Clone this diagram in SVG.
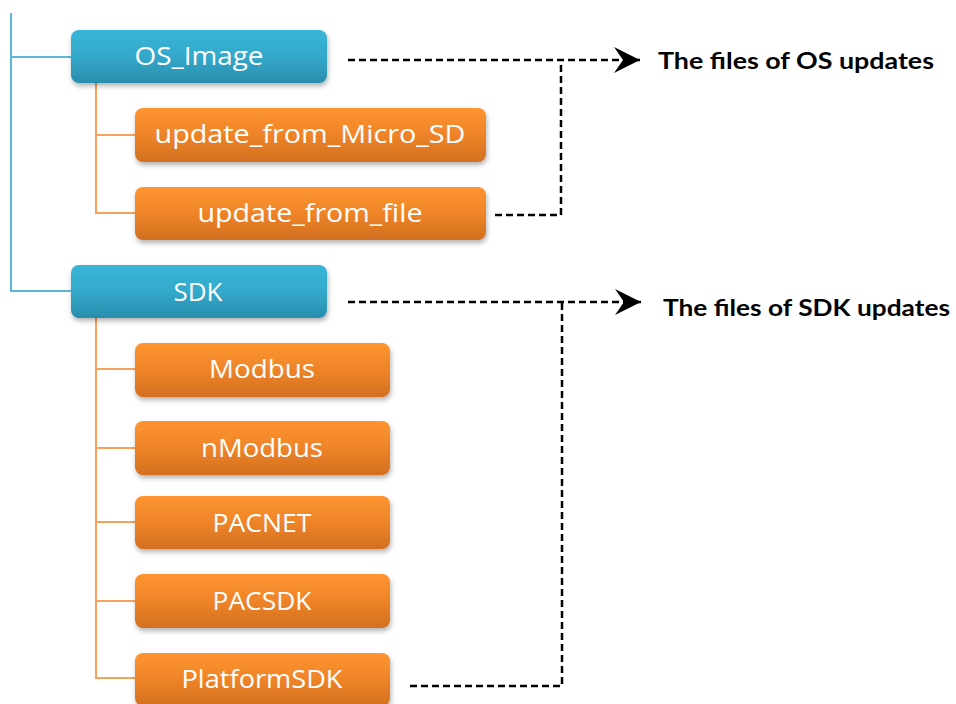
<svg xmlns="http://www.w3.org/2000/svg" width="956" height="704" viewBox="0 0 956 704">
<style>
.blue{fill:url(#gb);filter:url(#sh)}
.orange{fill:url(#go);filter:url(#sh)}
.nt{font-family:"Open Sans","DejaVu Sans",sans-serif;font-size:26px;fill:#ffffff;text-anchor:middle}
.lb{font-family:Lato,"Liberation Sans",Arial,sans-serif;font-weight:bold;font-size:22px;fill:#000000}
.bl{fill:none;stroke:#5CB8D3;stroke-width:2}
.ol{fill:none;stroke:#F7A25B;stroke-width:2}
.dash{fill:none;stroke:#000000;stroke-width:2.5;stroke-dasharray:7 4}
</style>
<defs>
<linearGradient id="gb" x1="0" y1="0" x2="0" y2="1">
<stop offset="0" stop-color="#39B5D8"/>
<stop offset="0.5" stop-color="#33A9CB"/>
<stop offset="1" stop-color="#2A8DAC"/>
</linearGradient>
<linearGradient id="go" x1="0" y1="0" x2="0" y2="1">
<stop offset="0" stop-color="#FE9530"/>
<stop offset="0.5" stop-color="#EE8428"/>
<stop offset="1" stop-color="#D26F20"/>
</linearGradient>
<filter id="sh" x="-10%" y="-20%" width="120%" height="150%">
<feDropShadow dx="1" dy="3" stdDeviation="2.5" flood-color="#000000" flood-opacity="0.3"/>
</filter>
<marker id="ah" markerUnits="userSpaceOnUse" markerWidth="30" markerHeight="30" refX="26" refY="13" orient="auto">
<path d="M0,0 L26,13 L0,26 L9,13 Z" fill="#000000"/>
</marker>
</defs>
<g id="connectors">
<path class="bl" d="M11,13 V291 H71 M11,57 H71"/>
<path class="ol" d="M96,83 V213 H135 M96,135 H135"/>
<path class="ol" d="M96,318 V678 H135 M96,369 H135 M96,448 H135 M96,522 H135 M96,601 H135"/>
<path class="dash" d="M348,60 H640" marker-end="url(#ah)"/>
<path class="dash" d="M495,215 H561 V60"/>
<path class="dash" d="M348,302 H641" marker-end="url(#ah)"/>
<path class="dash" d="M410,686 H562 V302"/>
</g>
<g id="os_image"><rect class="blue" x="71" y="30" width="256" height="53" rx="8"/><text class="nt" x="199" y="65" textLength="129" lengthAdjust="spacingAndGlyphs">OS_Image</text></g>
<g id="update_from_micro_sd"><rect class="orange" x="135" y="108" width="351" height="54" rx="8"/><text class="nt" x="310" y="143" textLength="311" lengthAdjust="spacingAndGlyphs">update_from_Micro_SD</text></g>
<g id="update_from_file"><rect class="orange" x="135" y="187" width="351" height="53" rx="8"/><text class="nt" x="310" y="222" textLength="225" lengthAdjust="spacingAndGlyphs">update_from_file</text></g>
<g id="sdk"><rect class="blue" x="71" y="265" width="256" height="53" rx="8"/><text class="nt" x="198" y="301" textLength="49" lengthAdjust="spacingAndGlyphs">SDK</text></g>
<g id="modbus"><rect class="orange" x="135" y="343" width="255" height="54" rx="8"/><text class="nt" x="262" y="378" textLength="106" lengthAdjust="spacingAndGlyphs">Modbus</text></g>
<g id="nmodbus"><rect class="orange" x="135" y="421" width="255" height="54" rx="8"/><text class="nt" x="262" y="457" textLength="122" lengthAdjust="spacingAndGlyphs">nModbus</text></g>
<g id="pacnet"><rect class="orange" x="135" y="496" width="255" height="53" rx="8"/><text class="nt" x="262" y="532" textLength="99" lengthAdjust="spacingAndGlyphs">PACNET</text></g>
<g id="pacsdk"><rect class="orange" x="135" y="574" width="255" height="54" rx="8"/><text class="nt" x="262" y="610" textLength="99" lengthAdjust="spacingAndGlyphs">PACSDK</text></g>
<g id="platformsdk"><rect class="orange" x="135" y="653" width="255" height="53" rx="8"/><text class="nt" x="262" y="688" textLength="161" lengthAdjust="spacingAndGlyphs">PlatformSDK</text></g>
<g id="label_os"><text class="lb" x="658" y="69" textLength="276" lengthAdjust="spacingAndGlyphs">The files of OS updates</text></g>
<g id="label_sdk"><text class="lb" x="663" y="316" textLength="287" lengthAdjust="spacingAndGlyphs">The files of SDK updates</text></g>
</svg>
